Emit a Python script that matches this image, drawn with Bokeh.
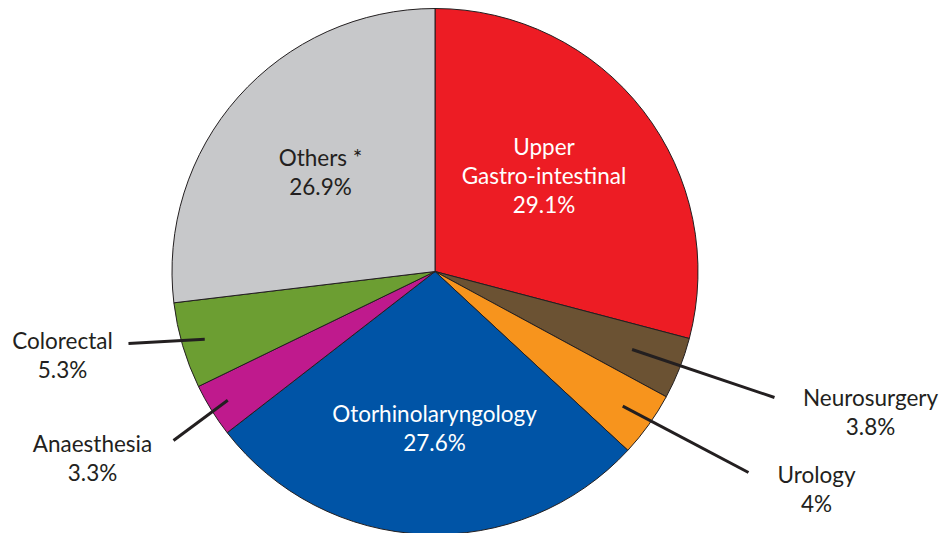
import math
from bokeh.plotting import figure
from bokeh.models import Range1d, ColumnDataSource
from bokeh.core.properties import value
from bokeh.embed import file_html
from bokeh.resources import INLINE

# ---- data ----
categories = ["Upper Gastro-intestinal", "Neurosurgery", "Urology",
              "Otorhinolaryngology", "Anaesthesia", "Colorectal", "Others *"]
percentages = [29.1, 3.8, 4.0, 27.6, 3.3, 5.3, 26.9]
label_lines = [["Upper", "Gastro-intestinal"], ["Neurosurgery"], ["Urology"],
               ["Otorhinolaryngology"], ["Anaesthesia"], ["Colorectal"], ["Others *"]]
colors = ["#ED1C24", "#6B5233", "#F7941D", "#0054A6", "#BF1A8D", "#6C9E32", "#C7C8CA"]
text_colors = ["white", "#231F20", "#231F20", "white", "#231F20", "#231F20", "#231F20"]

# ---- layout (page pixel coordinates) ----
W, H = 944, 533
PAGE_OFF = 0
CX, CY, R = 434.5, 271, 263
label_pos = [(543.5, 155), (870, 406), (816, 483), (434, 422), (92, 452), (62, 349), (320, 166)]
TEXT_SHIFT = 9
LINE_GAP = 29
# leader lines: (inner radius, outer end point page coords) or None
leaders = [None, (212, (774, 397)), (231, (748, 472)), None, (244, (173, 440)), (240, (128, 343)), None]
DARK = "#231F20"


def dx(px):
    return px - PAGE_OFF


def dy(py):
    return (H + PAGE_OFF) - py


p = figure(width=W, height=H, x_range=Range1d(0, W), y_range=Range1d(0, H),
           x_axis_type=None, y_axis_type=None, toolbar_location=None,
           output_backend="svg", min_border=0)
p.grid.visible = False
p.outline_line_color = None
p.background_fill_color = "white"

total = sum(percentages)
starts, ends, mids = [], [], []
cum = 0.0
for v in percentages:
    a0 = math.pi / 2 - 2 * math.pi * cum / total
    cum += v
    a1 = math.pi / 2 - 2 * math.pi * cum / total
    starts.append(a0)
    ends.append(a1)
    mids.append((a0 + a1) / 2)

src = ColumnDataSource(dict(start=starts, end=ends, color=colors, cat=categories))
p.wedge(x=dx(CX), y=dy(CY), radius=R, radius_units="screen",
        start_angle="start", end_angle="end", direction="clock",
        fill_color="color", line_color=DARK, line_width=1, source=src)

# leader lines
x0s, y0s, x1s, y1s = [], [], [], []
for i, ld in enumerate(leaders):
    if ld is None:
        continue
    rin, (ex, ey) = ld
    x0s.append(dx(CX) + rin * math.cos(mids[i]))
    y0s.append(dy(CY) + rin * math.sin(mids[i]))
    x1s.append(dx(ex))
    y1s.append(dy(ey))
p.segment(x0=x0s, y0=y0s, x1=x1s, y1=y1s, line_color=DARK, line_width=3)

# labels
tx, ty, tt, tc = [], [], [], []
for i, lines in enumerate(label_lines):
    allines = lines + [f"{percentages[i]:g}%"]
    cx, by = label_pos[i]
    for k, ln in enumerate(allines):
        tx.append(dx(cx))
        ty.append(dy(by - TEXT_SHIFT + k * LINE_GAP))
        tt.append(ln)
        tc.append(text_colors[i])
tsrc = ColumnDataSource(dict(x=tx, y=ty, text=tt, color=tc))
p.text(x="x", y="y", text="text", text_color="color", source=tsrc,
       text_align="center", text_baseline="alphabetic",
       text_font=value("Lato"), text_font_size="22.5px")

open("out.html", "w").write(file_html(p, INLINE))
